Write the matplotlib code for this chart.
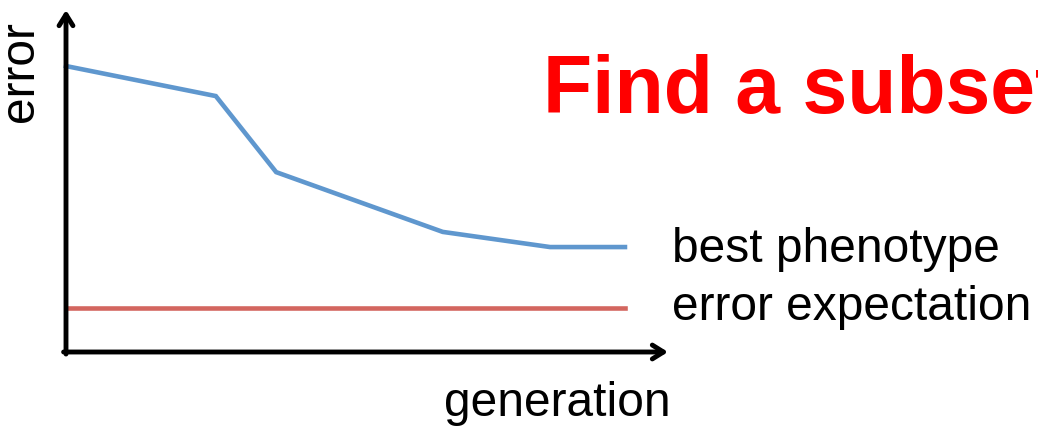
import matplotlib
matplotlib.use('Agg')
import matplotlib.pyplot as plt

# data (arbitrary units)
generation = [0, 2.68, 3.76, 6.74, 8.66, 10]
best_error = [10.0, 8.95, 6.29, 4.2, 3.67, 3.67]
expect_gen = [0, 10]
expect_error = [1.54, 1.54]

W, H = 1038, 429
plt.rcParams['font.family'] = ['Liberation Sans', 'DejaVu Sans']

fig = plt.figure(figsize=(W / 100, H / 100), dpi=100)

# axes: origin at pixel (66, 352), arrows end at x=668 and y=10
ax = fig.add_axes([66 / W, 77 / H, (668 - 66) / W, 342 / H])
ax.set_xlim(0, 10.77)
ax.set_ylim(0, 11.96)
ax.axis('off')

ax.plot(generation, best_error, color='#5F97CE', lw=3.3, solid_joinstyle='miter', clip_on=False)
ax.plot(expect_gen, expect_error, color='#D3665F', lw=3.3, clip_on=False)

arrow = dict(arrowstyle='->,head_length=0.8,head_width=0.5', lw=3.5, color='black',
             shrinkA=0, shrinkB=0)
ax.annotate('', xy=(1, 0), xytext=(-0.004, 0), xycoords='axes fraction', arrowprops=arrow)
ax.annotate('', xy=(0, 1), xytext=(0, -0.006), xycoords='axes fraction', arrowprops=arrow)


def px(x, y):
    return x / W, 1 - y / H


fig.text(*px(672, 262), 'best phenotype', fontsize=34.5, ha='left', va='baseline')
fig.text(*px(672, 320), 'error expectation', fontsize=34.5, ha='left', va='baseline')
fig.text(*px(557, 416), 'generation', fontsize=34.5, ha='center', va='baseline')
fig.text(*px(43, 72), 'error', fontsize=34.5, rotation=90, ha='right', va='center')
fig.text(*px(543, 113), 'Find a subset', fontsize=58, fontweight='bold', color='#FF0000',
         ha='left', va='baseline')

fig.savefig('out.png', dpi=100)
